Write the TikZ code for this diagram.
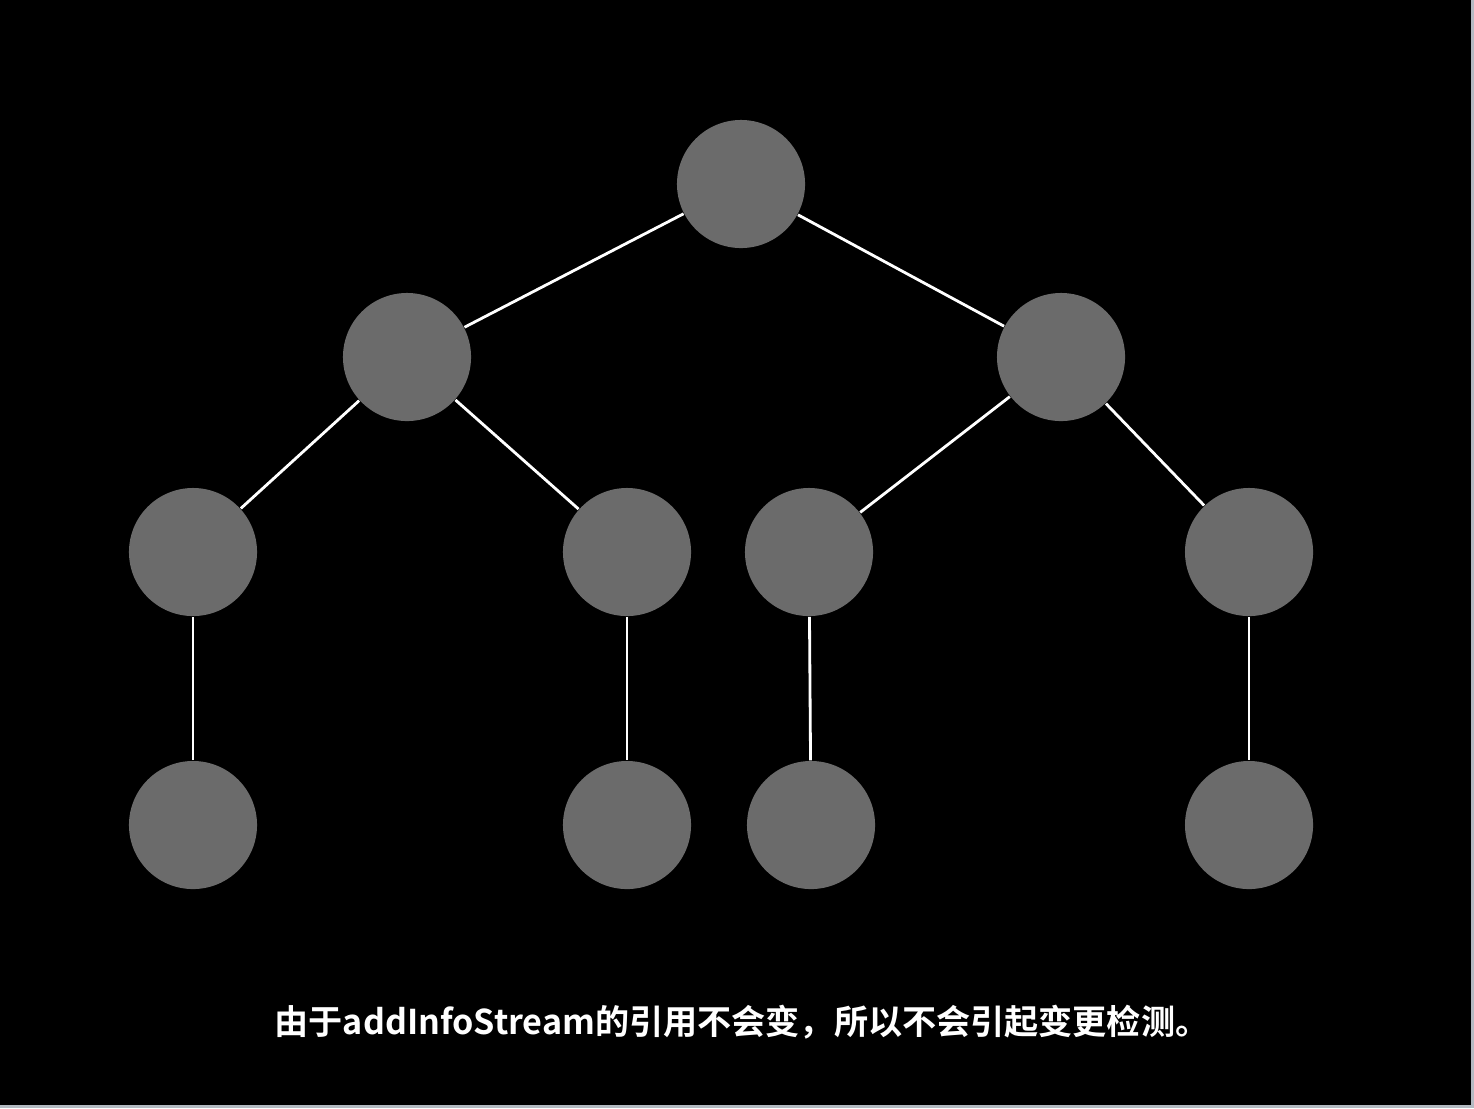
\documentclass[tikz,border=0pt]{standalone}
\usepackage{fontspec}
\newfontfamily\cjk{Noto Sans CJK SC}[BoldFont={Noto Sans CJK SC Bold}]
\usepackage{tikz}
\usetikzlibrary{positioning}
\definecolor{nodegray}{HTML}{6B6B6B}
\definecolor{edgegray}{HTML}{B4BAC2}

\begin{document}
\begin{tikzpicture}
	[x=0.01cm, y=-0.01cm, inner sep=0pt,
	tnode/.style	= {circle, fill=nodegray, draw=none, minimum size=12.8mm},
	edge/.style	= {draw=white, line width=0.8pt},
	caption/.style	= {text=white, font=\cjk\bfseries\fontsize{9.7}{12}\selectfont}]
	
	% background and frame
	\fill [edgegray] (0,0) rectangle (1474,1108);
	\fill [black] (0,0) rectangle (1471,1105);
	\useasboundingbox (0,0) rectangle (1474,1108);
	
	\node at (741, 184)	[tnode]	(root)	{};
	
	\node at (407, 357)	[tnode]	(l)	{};
	\node at (1061, 357)	[tnode]	(r)	{};
	
	\node at (193, 552)	[tnode]	(ll)	{};
	\node at (627, 552)	[tnode]	(lr)	{};
	\node at (809, 552)	[tnode]	(rl)	{};
	\node at (1249, 552)	[tnode]	(rr)	{};
	
	\node at (193, 825)	[tnode]	(lll)	{};
	\node at (627, 825)	[tnode]	(lrl)	{};
	\node at (811, 825)	[tnode]	(rll)	{};
	\node at (1249, 825)	[tnode]	(rrl)	{};
	
	\draw [edge] (root) -- (l);
	\draw [edge] (root) -- (r);
	\draw [edge] (l) -- (ll);
	\draw [edge] (l) -- (lr);
	\draw [edge] (r) -- (rl);
	\draw [edge] (r) -- (rr);
	
	\draw [edge] (ll) -- (lll);
	\draw [edge] (lr) -- (lrl);
	\draw [edge] (rl) -- (rll);
	\draw [edge] (rr) -- (rrl);
	
	\node at (742, 1022)	[caption]	(note)	{由于addInfoStream的引用不会变，所以不会引起变更检测。};
\end{tikzpicture}
\end{document}
